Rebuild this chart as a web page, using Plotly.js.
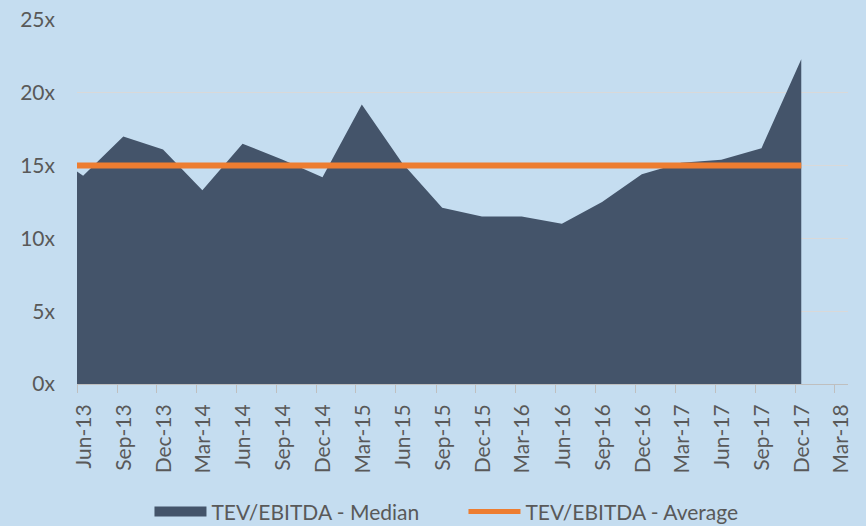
<!DOCTYPE html>
<html>
<head>
<meta charset="utf-8">
<script src="https://cdn.plot.ly/plotly-3.0.1.min.js"></script>
<style>
  html, body { margin: 0; padding: 0; background: #c5ddf0; }
  #chart { width: 866px; height: 526px; }
</style>
</head>
<body>
<div id="chart"></div>
<script>
// Quarter-end months of the series (first one lies before the visible axis start)
const months = ['2013-03','2013-06','2013-09','2013-12','2014-03','2014-06','2014-09','2014-12',
                '2015-03','2015-06','2015-09','2015-12','2016-03','2016-06','2016-09','2016-12',
                '2017-03','2017-06','2017-09','2017-12'];
const medianValues = [16.2, 14.3, 17.0, 16.1, 13.3, 16.5, 15.4, 14.2,
                      19.2, 15.2, 12.1, 11.5, 11.5, 11.0, 12.5, 14.4,
                      15.2, 15.4, 16.2, 22.3];
const averageValues = [15.0, 15.0, 15.0, 15.0, 15.0, 15.0, 15.0, 15.0,
                       15.0, 15.0, 15.0, 15.0, 15.0, 15.0, 15.0, 15.0,
                       15.0, 15.0, 15.0, 15.0];
const tickMonths = ['2013-06','2013-09','2013-12','2014-03','2014-06','2014-09','2014-12',
                    '2015-03','2015-06','2015-09','2015-12','2016-03','2016-06','2016-09',
                    '2016-12','2017-03','2017-06','2017-09','2017-12','2018-03'];
const tickLabels = ['Jun-13','Sep-13','Dec-13','Mar-14','Jun-14','Sep-14','Dec-14','Mar-15',
                    'Jun-15','Sep-15','Dec-15','Mar-16','Jun-16','Sep-16','Dec-16','Mar-17',
                    'Jun-17','Sep-17','Dec-17','Mar-18'];
const yTicks = [0, 5, 10, 15, 20, 25];

// points sit in the middle of their month slot (Excel date axis, between tick marks)
const xData = months.map(m => m + '-15');

const FONT = 'Lato, "Open Sans", sans-serif';
const TXT = '#595959';
const AREA = '#44546a';
const ORANGE = '#ed7d31';

const traces = [
  {
    type: 'scatter', mode: 'lines', name: 'TEV/EBITDA - Median',
    x: xData, y: medianValues,
    fill: 'tozeroy', fillcolor: AREA,
    line: { color: AREA, width: 0 },
    showlegend: false,
    hoverinfo: 'skip'
  },
  {
    type: 'scatter', mode: 'lines', name: 'TEV/EBITDA - Average',
    x: xData, y: averageValues,
    line: { color: ORANGE, width: 6 },
    showlegend: false,
    hoverinfo: 'skip'
  },
  // legend entries
  {
    type: 'scatter', mode: 'lines', name: 'TEV/EBITDA - Median',
    x: [null], y: [null],
    line: { color: AREA, width: 15 },
    hoverinfo: 'skip'
  },
  {
    type: 'scatter', mode: 'lines', name: 'TEV/EBITDA - Average',
    x: [null], y: [null],
    line: { color: ORANGE, width: 5 },
    hoverinfo: 'skip'
  }
];

const layout = {
  width: 866, height: 526,
  paper_bgcolor: '#c5ddf0', plot_bgcolor: '#c5ddf0',
  margin: { l: 77, r: 18, t: 20, b: 142 },
  font: { family: FONT, color: TXT, size: 21 },
  showlegend: true,
  xaxis: {
    type: 'date',
    automargin: false,
    range: ['2013-06-01', '2018-04-01'],
    tickmode: 'array',
    tickvals: tickMonths.map(m => m + '-01'),
    ticktext: tickLabels,
    tickangle: -90,
    ticks: 'outside', ticklen: 8, tickcolor: '#bfbfbf', tickwidth: 1,
    ticklabelshift: 7,
    ticklabelstandoff: 3,
    showline: true, linecolor: '#bfbfbf', linewidth: 1,
    showgrid: false, zeroline: false,
    tickfont: { family: FONT, color: TXT, size: 21 },
    fixedrange: true
  },
  yaxis: {
    automargin: false,
    range: [0, 25],
    tickmode: 'array', tickvals: yTicks,
    ticktext: yTicks.map(v => v + 'x'),
    ticklabelstandoff: 21,
    showgrid: true, gridcolor: '#d9d9d9', gridwidth: 1,
    zeroline: false, showline: false, ticks: '',
    tickfont: { family: FONT, color: TXT, size: 21 },
    fixedrange: true
  },
  legend: {
    orientation: 'h',
    x: 0.094, xanchor: 'left',
    yref: 'container', y: 0.027, yanchor: 'middle',
    bgcolor: 'rgba(0,0,0,0)',
    itemwidth: 52,
    entrywidth: 247,
    traceorder: 'normal',
    font: { family: FONT, color: TXT, size: 21 }
  }
};

Plotly.newPlot('chart', traces, layout, { displayModeBar: false, staticPlot: true });
</script>
</body>
</html>
